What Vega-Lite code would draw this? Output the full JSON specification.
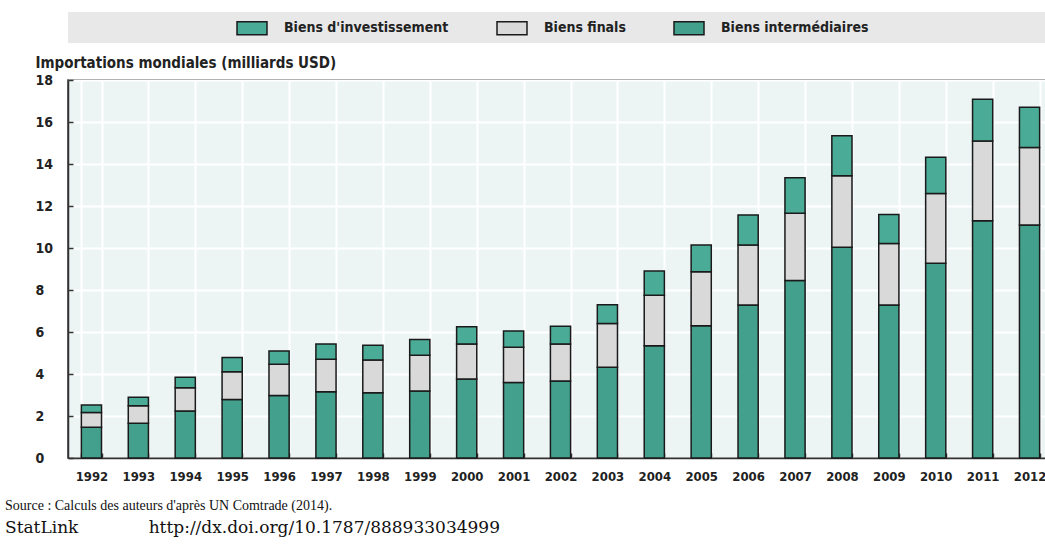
{
  "$schema": "https://vega.github.io/schema/vega-lite/v6.json",
  "width": 985,
  "height": 378,
  "padding": {"left": 5, "top": 12, "right": 0, "bottom": 5},
  "background": "white",
  "config": {
    "view": {"fill": "#edf4f4", "stroke": "#333333", "strokeWidth": 1.5},
    "font": "DejaVu Sans Condensed, Liberation Sans, sans-serif"
  },
  "title": {
    "text": "Source : Calculs des auteurs d'après UN Comtrade (2014).",
    "subtitle": "StatLink\u00a0\u00a0\u00a0\u00a0\u00a0\u00a0\u00a0\u00a0\u00a0\u00a0\u00a0\u00a0\u00a0http://dx.doi.org/10.1787/888933034999",
    "orient": "bottom",
    "anchor": "start",
    "frame": "group",
    "dx": -63,
    "offset": 16,
    "font": "Liberation Serif",
    "fontSize": 14,
    "fontWeight": "normal",
    "color": "#111111",
    "subtitleFont": "DejaVu Serif",
    "subtitleFontSize": 17,
    "subtitleColor": "#111111",
    "subtitlePadding": 7
  },
  "data": {
    "values": [
      {"year": "1992", "type": "Biens intermédiaires", "ord": 1, "value": 1.46},
      {"year": "1992", "type": "Biens finals", "ord": 2, "value": 0.71},
      {"year": "1992", "type": "Biens d'investissement", "ord": 3, "value": 0.35},
      {"year": "1993", "type": "Biens intermédiaires", "ord": 1, "value": 1.65},
      {"year": "1993", "type": "Biens finals", "ord": 2, "value": 0.84},
      {"year": "1993", "type": "Biens d'investissement", "ord": 3, "value": 0.40},
      {"year": "1994", "type": "Biens intermédiaires", "ord": 1, "value": 2.24},
      {"year": "1994", "type": "Biens finals", "ord": 2, "value": 1.11},
      {"year": "1994", "type": "Biens d'investissement", "ord": 3, "value": 0.49},
      {"year": "1995", "type": "Biens intermédiaires", "ord": 1, "value": 2.79},
      {"year": "1995", "type": "Biens finals", "ord": 2, "value": 1.32},
      {"year": "1995", "type": "Biens d'investissement", "ord": 3, "value": 0.68},
      {"year": "1996", "type": "Biens intermédiaires", "ord": 1, "value": 2.98},
      {"year": "1996", "type": "Biens finals", "ord": 2, "value": 1.48},
      {"year": "1996", "type": "Biens d'investissement", "ord": 3, "value": 0.64},
      {"year": "1997", "type": "Biens intermédiaires", "ord": 1, "value": 3.16},
      {"year": "1997", "type": "Biens finals", "ord": 2, "value": 1.54},
      {"year": "1997", "type": "Biens d'investissement", "ord": 3, "value": 0.73},
      {"year": "1998", "type": "Biens intermédiaires", "ord": 1, "value": 3.11},
      {"year": "1998", "type": "Biens finals", "ord": 2, "value": 1.56},
      {"year": "1998", "type": "Biens d'investissement", "ord": 3, "value": 0.70},
      {"year": "1999", "type": "Biens intermédiaires", "ord": 1, "value": 3.19},
      {"year": "1999", "type": "Biens finals", "ord": 2, "value": 1.70},
      {"year": "1999", "type": "Biens d'investissement", "ord": 3, "value": 0.75},
      {"year": "2000", "type": "Biens intermédiaires", "ord": 1, "value": 3.76},
      {"year": "2000", "type": "Biens finals", "ord": 2, "value": 1.67},
      {"year": "2000", "type": "Biens d'investissement", "ord": 3, "value": 0.82},
      {"year": "2001", "type": "Biens intermédiaires", "ord": 1, "value": 3.59},
      {"year": "2001", "type": "Biens finals", "ord": 2, "value": 1.68},
      {"year": "2001", "type": "Biens d'investissement", "ord": 3, "value": 0.78},
      {"year": "2002", "type": "Biens intermédiaires", "ord": 1, "value": 3.67},
      {"year": "2002", "type": "Biens finals", "ord": 2, "value": 1.76},
      {"year": "2002", "type": "Biens d'investissement", "ord": 3, "value": 0.84},
      {"year": "2003", "type": "Biens intermédiaires", "ord": 1, "value": 4.32},
      {"year": "2003", "type": "Biens finals", "ord": 2, "value": 2.09},
      {"year": "2003", "type": "Biens d'investissement", "ord": 3, "value": 0.89},
      {"year": "2004", "type": "Biens intermédiaires", "ord": 1, "value": 5.35},
      {"year": "2004", "type": "Biens finals", "ord": 2, "value": 2.40},
      {"year": "2004", "type": "Biens d'investissement", "ord": 3, "value": 1.15},
      {"year": "2005", "type": "Biens intermédiaires", "ord": 1, "value": 6.30},
      {"year": "2005", "type": "Biens finals", "ord": 2, "value": 2.57},
      {"year": "2005", "type": "Biens d'investissement", "ord": 3, "value": 1.27},
      {"year": "2006", "type": "Biens intermédiaires", "ord": 1, "value": 7.29},
      {"year": "2006", "type": "Biens finals", "ord": 2, "value": 2.85},
      {"year": "2006", "type": "Biens d'investissement", "ord": 3, "value": 1.43},
      {"year": "2007", "type": "Biens intermédiaires", "ord": 1, "value": 8.45},
      {"year": "2007", "type": "Biens finals", "ord": 2, "value": 3.20},
      {"year": "2007", "type": "Biens d'investissement", "ord": 3, "value": 1.70},
      {"year": "2008", "type": "Biens intermédiaires", "ord": 1, "value": 10.03},
      {"year": "2008", "type": "Biens finals", "ord": 2, "value": 3.41},
      {"year": "2008", "type": "Biens d'investissement", "ord": 3, "value": 1.91},
      {"year": "2009", "type": "Biens intermédiaires", "ord": 1, "value": 7.29},
      {"year": "2009", "type": "Biens finals", "ord": 2, "value": 2.93},
      {"year": "2009", "type": "Biens d'investissement", "ord": 3, "value": 1.38},
      {"year": "2010", "type": "Biens intermédiaires", "ord": 1, "value": 9.27},
      {"year": "2010", "type": "Biens finals", "ord": 2, "value": 3.33},
      {"year": "2010", "type": "Biens d'investissement", "ord": 3, "value": 1.72},
      {"year": "2011", "type": "Biens intermédiaires", "ord": 1, "value": 11.30},
      {"year": "2011", "type": "Biens finals", "ord": 2, "value": 3.80},
      {"year": "2011", "type": "Biens d'investissement", "ord": 3, "value": 1.98},
      {"year": "2012", "type": "Biens intermédiaires", "ord": 1, "value": 11.10},
      {"year": "2012", "type": "Biens finals", "ord": 2, "value": 3.69},
      {"year": "2012", "type": "Biens d'investissement", "ord": 3, "value": 1.91}
    ]
  },
  "mark": {"type": "bar", "stroke": "#1a1a1a", "strokeWidth": 1.5},
  "encoding": {
    "x": {
      "field": "year",
      "type": "ordinal",
      "scale": {"paddingInner": 0.57, "paddingOuter": 0.285},
      "axis": {
        "title": null,
        "labelAngle": 0,
        "tickBand": "extent",
        "grid": true,
        "gridColor": "white",
        "gridWidth": 2,
        "domainColor": "#333333",
        "domainWidth": 1.5,
        "tickColor": "#333333",
        "tickWidth": 1.5,
        "tickSize": -5,
        "labelPadding": 17,
        "labelFontWeight": "bold",
        "labelFontSize": 13,
        "labelColor": "#222222"
      }
    },
    "y": {
      "field": "value",
      "type": "quantitative",
      "stack": "zero",
      "scale": {"domain": [0, 18], "nice": false},
      "axis": {
        "values": [0, 2, 4, 6, 8, 10, 12, 14, 16, 18],
        "title": "Importations mondiales (milliards USD)",
        "titleAngle": 0,
        "titleX": -33,
        "titleY": -18,
        "titleAlign": "left",
        "titleBaseline": "middle",
        "titleFontWeight": "bold",
        "titleFontSize": 15,
        "titleColor": "#222222",
        "grid": true,
        "gridColor": "white",
        "gridWidth": 2,
        "domainColor": "#333333",
        "domainWidth": 1.5,
        "tickColor": "#333333",
        "tickWidth": 1.5,
        "tickSize": -5,
        "labelAlign": "left",
        "labelPadding": 38,
        "labelFontWeight": "bold",
        "labelFontSize": 14,
        "labelColor": "#222222"
      }
    },
    "color": {
      "field": "type",
      "type": "nominal",
      "scale": {
        "domain": ["Biens d'investissement", "Biens finals", "Biens intermédiaires"],
        "range": ["#4aab97", "#d9d9d9", "#43a08d"]
      },
      "legend": {
        "title": "\u00a0",
        "titleOrient": "left",
        "titlePadding": 168,
        "orient": "none",
        "legendX": 0,
        "legendY": -68,
        "direction": "horizontal",
        "fillColor": "#e8e8e8",
        "padding": 5,
        "symbolType": "M-1.5,-0.65H1.5V0.65H-1.5Z",
        "symbolSize": 400,
        "symbolStrokeColor": "#1a1a1a",
        "symbolStrokeWidth": 1.5,
        "symbolOpacity": 1,
        "labelFontWeight": "bold",
        "labelFontSize": 14,
        "labelColor": "#222222",
        "labelOffset": 21,
        "labelLimit": 800,
        "labelExpr": "datum.label == 'Biens intermédiaires' ? datum.label + '\u00a0\u00a0\u00a0\u00a0\u00a0\u00a0\u00a0\u00a0\u00a0\u00a0\u00a0\u00a0\u00a0\u00a0\u00a0\u00a0\u00a0\u00a0\u00a0\u00a0\u00a0\u00a0\u00a0\u00a0\u00a0\u00a0\u00a0\u00a0\u00a0\u00a0\u00a0\u00a0\u00a0\u00a0\u00a0\u00a0\u00a0\u00a0\u00a0\u200b' : datum.label",
        "columnPadding": 45
      }
    },
    "order": {"field": "ord", "type": "quantitative"}
  }
}
